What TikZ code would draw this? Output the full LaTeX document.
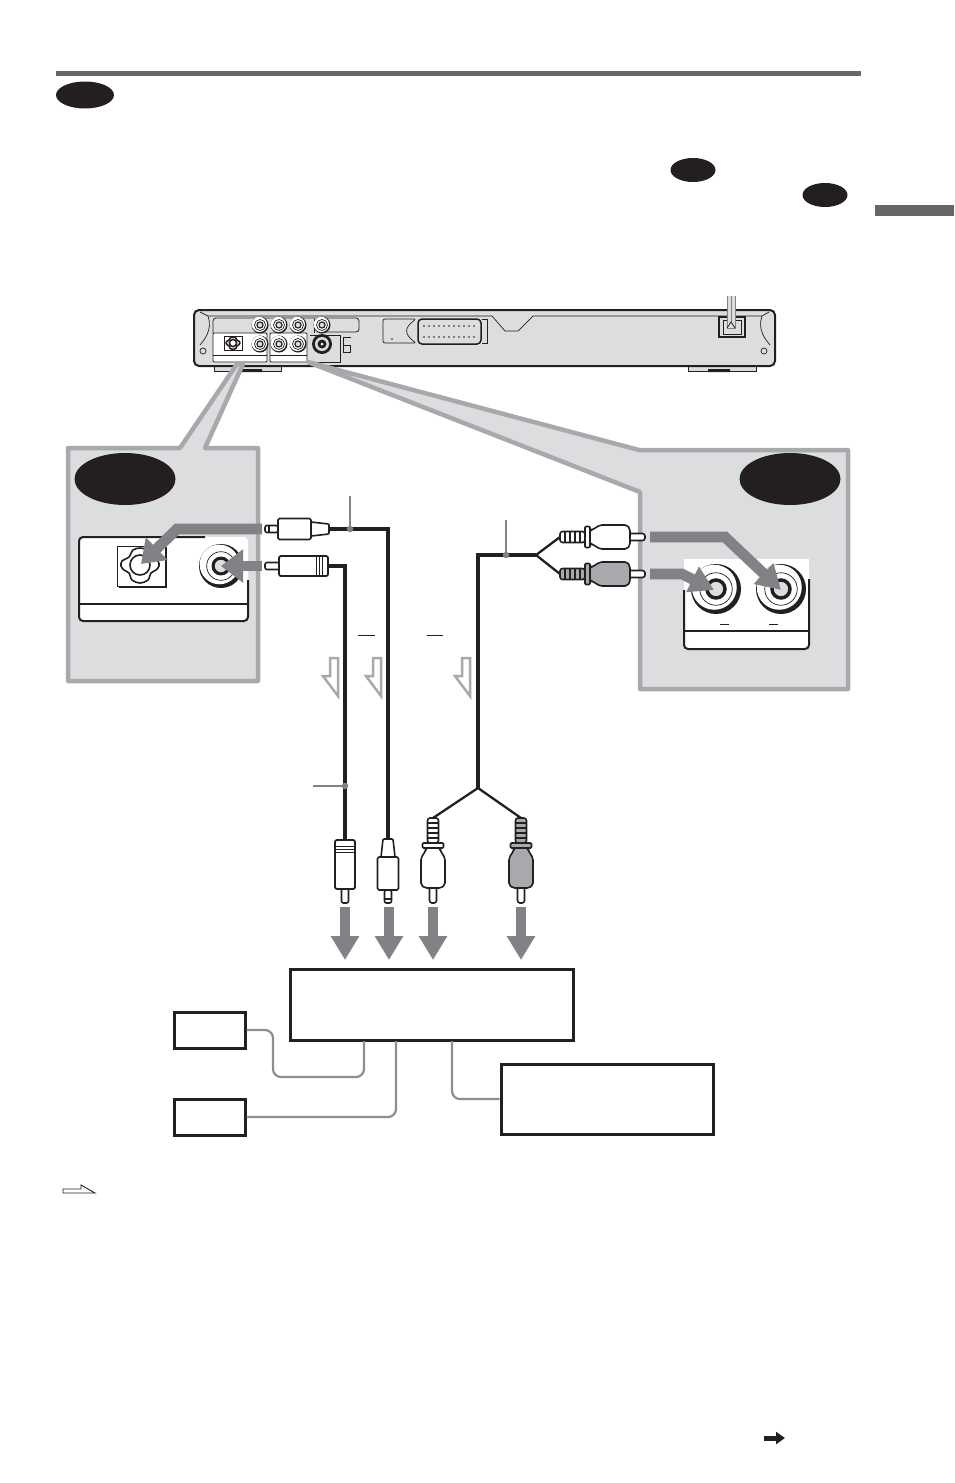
\documentclass[tikz,border=0pt]{standalone}
\usepackage{amsmath}
\usetikzlibrary{positioning,shapes.geometric,arrows.meta}
\definecolor{myblack}{RGB}{35,31,32}
\definecolor{mypanel}{RGB}{220,221,222}
\definecolor{myedge}{RGB}{167,169,172}
\definecolor{myarrow}{RGB}{128,130,133}
\definecolor{myrule}{RGB}{102,102,102}
\tikzset{
  badge/.style={ellipse,fill=myblack,inner sep=0pt},
  unitbox/.style={draw=myblack,line width=3pt,fill=white,inner sep=0pt},
  panel/.style={draw=myedge,fill=mypanel,line width=4.5pt,line join=round},
  cable/.style={draw=myblack,line width=3.7pt,line join=miter},
  thincable/.style={draw=myblack,line width=2.3pt},
  bigarrow/.style={draw=myarrow,line width=10.7pt,-{Triangle[length=24pt,width=27pt]}},
  hollow/.style={draw=myedge,line width=2.5pt,fill=white,line join=miter},
  grayline/.style={draw=myarrow!90,line width=2.2pt,rounded corners=8pt},
  leader/.style={draw=myarrow,line width=1.2pt},
  dot/.style={circle,fill=myarrow,inner sep=0pt,minimum size=6.5pt},
  plugline/.style={draw=myblack,line width=1.6pt,line join=round},
  pics/rcaplug/.style={code={
    \draw[plugline,fill=white,rounded corners=2.5pt] (15,-3.5) -- (0,-3.5) -- (0,3.5) -- (15,3.5);
    \draw[plugline,fill=#1,rounded corners=2pt] (15,-8) -- (18,-12) -- (45,-12) -- (53,-7) -- (55,-7)
      -- (55,7) -- (53,7) -- (45,12) -- (18,12) -- (15,8) -- cycle;
    \draw[plugline,fill=#1,rounded corners=1pt] (55,-10.5) rectangle (60,10.5);
    \draw[plugline,fill=#1,rounded corners=2.5pt] (60,-5.5) rectangle (85,5.5);
    \foreach \rx in {65,70,75,80}
      \draw[plugline,line width=1.2pt] (\rx,-5.5) -- (\rx,5.5);
  }},
  pics/optplug/.style={code={
    \draw[plugline,fill=white,rounded corners=2pt] (0,-3.5) rectangle (13,3.5);
    \draw[plugline] (4,-3.5) -- (4,3.5);
    \draw[plugline,fill=white,rounded corners=1.5pt] (13,-10.5) rectangle (46,10.5);
    \draw[plugline,fill=white,rounded corners=1pt] (46,-7) -- (64,-5) -- (64,5) -- (46,7) -- cycle;
  }},
  pics/miniplug/.style={code={
    \draw[plugline,fill=white,rounded corners=2pt] (0,-3.5) rectangle (15,3.5);
    \draw[plugline,line width=1.8pt,fill=white,rounded corners=2pt] (14,-10) rectangle (63,10);
    \foreach \rx in {51,54,57}
      \draw[plugline,line width=.8pt] (\rx,-10) -- (\rx,10);
  }},
  pics/jack/.style={code={
    \fill[myblack] (0,0) circle (#1);
    \fill[white] (-.07*#1,-.07*#1) circle (.9*#1);
    \draw[myblack,line width=.7pt] (0,0) circle (.65*#1);
    \draw[myblack,line width=.14*#1 pt,fill=mypanel] (0,0) circle (.36*#1);
  }},
  pics/optport/.style={code={
    \fill[myblack] (-21,-18) rectangle (27,23);
    \draw[myblack,line width=1pt,fill=white] (-23,-19) rectangle (25,21);
    \draw[myblack,line width=1.6pt,fill=white] plot[smooth cycle] coordinates {(-7,-15) (0,-17) (7,-15) (11,-8) (18,-4) (19,1) (16,5) (11,8) (8,15) (0,18) (-8,15) (-11,8) (-16,5) (-19,1) (-18,-4) (-11,-8)};
    \draw[myblack,line width=1.6pt,fill=white] (0,0) circle (10);
  }}
}
\begin{document}
\begin{tikzpicture}[x=1pt,y=-1pt]
  \useasboundingbox (0,0) rectangle (954,1483);

  % page marks
  \fill[myrule] (56,70.5) rectangle (861,75.5);
  \fill[myrule] (875,205) rectangle (954,216);
  \node[badge,minimum width=58pt,minimum height=27pt] (headbadge) at (85,95) {};
  \node[badge,minimum width=45pt,minimum height=24pt] (notea) at (693,170) {};
  \node[badge,minimum width=45pt,minimum height=24pt] (noteb) at (825,195) {};

  % the player
  \draw[myblack,line width=1pt,fill=mypanel] (214,364) rectangle (281,371) (688,364) rectangle (756,371);
  \fill[myblack] (240,369) rectangle (262,372) (708,369) rectangle (730,372);
  \draw[myblack,line width=2pt,fill=mypanel,rounded corners=5pt] (194,310) rectangle (775,366);
  \draw[myblack,line width=.7pt] (200,312) -- (208,316) -- (492,316) -- (505,331) -- (518,331) -- (533,316) -- (762,316) -- (769,312);
  \draw[myblack,line width=.7pt] (208,316) .. controls (213,330) and (204,340) .. (200,345);
  \draw[myblack,line width=.7pt] (762,316) .. controls (757,330) and (766,340) .. (770,345);
  \draw[myblack,line width=.7pt] (203,351) circle (3) (764,351) circle (3);
  \draw[myblack,line width=.8pt,rounded corners=3pt] (213,333) -- (213,318) -- (359,318) -- (359,332) -- (320,332);
  \draw[myblack,line width=.8pt] (314,333) -- (314,319);
  \draw[myblack,line width=.8pt,fill=white,rounded corners=1pt] (213,333) rectangle (267,362) (270,333) rectangle (307,362);
  \draw[myblack,line width=.8pt] (213,355) -- (267,355) (270,355) -- (307,355);
  \draw[myblack,line width=.8pt] (310,362) -- (340,362) -- (340,335) -- (310,335);
  \foreach \jx in {260,279,298,322}
    \pic at (\jx,325) {jack=8.5};
  \foreach \jx in {260,279,298}
    \pic at (\jx,344) {jack=8.5};
  \pic[scale=.36] at (233,343) {optport};
  \fill[myblack] (322,344) circle (10);
  \fill[mypanel] (322,344) circle (7);
  \fill[myblack] (322,344) circle (4.5);
  \fill[white] (322,344) circle (1.5);
  \draw[myblack,line width=.7pt] (343,352) -- (343,337) -- (351,337) (343,345) rectangle (350,352);
  \draw[myblack,line width=.7pt,rounded corners=2pt] (383,319) -- (416,319) .. controls (404,328) and (404,334) .. (416,343) -- (383,343) -- cycle;
  \fill[myblack] (392,339) circle (.8);
  \draw[myblack,line width=.7pt] (482,319) -- (487,319) -- (487,343) -- (482,343);
  \draw[myblack,line width=1.5pt,fill=mypanel,rounded corners=4pt] (418,319) rectangle (481,344);
  \foreach \sx in {0,...,10}
    \fill[myblack] (424+\sx*5,326) circle (.9) (424+\sx*5,337) circle (.9);
  \draw[myblack,line width=1.2pt] (719,317) rectangle (745,337);
  \draw[myblack,line width=1pt] (723,320) rectangle (741,334);
  \draw[myarrow,line width=.9pt,fill=mypanel] (727,296) -- (727,328) -- (735,328) -- (735,296);
  \draw[myarrow,line width=.8pt] (731,296) -- (731,322);
  \draw[myblack,line width=.8pt] (727,328) -- (731,322) -- (735,328);

  % panels with their wedges
  \draw[panel] (68,448) -- (180,448) -- (237,364) -- (243,364) -- (205,448) -- (258,448) -- (258,681) -- (68,681) -- cycle;
  \draw[panel] (308,362) -- (639,450) -- (848,450) -- (848,689) -- (640,689) -- (640,492) -- cycle;
  \node[badge,minimum width=101pt,minimum height=52pt] (leftbadge) at (125,479) {};
  \node[badge,minimum width=101pt,minimum height=52pt] (rightbadge) at (790,479) {};

  % left socket plate
  \fill[white,rounded corners=4pt] (79,537) rectangle (248,621);
  \draw[myblack,line width=2pt,rounded corners=4pt] (205,537) -- (79,537) -- (79,621) -- (248,621) -- (248,580);
  \draw[myblack,line width=2pt] (79,604) -- (248,604);
  \pic at (140,565) {optport};
  \pic at (221,566) {jack=22};

  % right socket plate
  \fill[white] (684,559) rectangle (809,575);
  \fill[white,rounded corners=4pt] (684,570) rectangle (809,649);
  \draw[myblack,line width=2pt,rounded corners=4pt] (684,590) -- (684,649) -- (809,649) -- (809,579);
  \draw[myblack,line width=2pt] (684,631) -- (809,631);
  \draw[myblack,line width=1pt] (720,624) -- (729,624) (769,624) -- (778,624);
  \pic at (716,589) {jack=25};
  \pic at (781,589) {jack=25};

  % plugs at the top
  \pic at (265,529) {optplug};
  \pic at (265,566) {miniplug};
  \pic[rotate=180] at (645,537) {rcaplug=white};
  \pic[rotate=180] at (645,574) {rcaplug=myedge};
  % plugs at the bottom
  \pic[rotate=90] at (345,903) {miniplug};
  \pic[rotate=90] at (388,903) {optplug};
  \pic[rotate=90] at (433,903) {rcaplug=white};
  \pic[rotate=90] at (521,903) {rcaplug=myedge};

  % cables
  \coordinate (opttop) at (329,529);
  \coordinate (optbot) at (388,839);
  \coordinate (minitop) at (328,566);
  \coordinate (minibot) at (345,840);
  \coordinate (splita) at (536,555);
  \coordinate (splitb) at (478,788);
  \coordinate (plugw) at (560,537);
  \coordinate (plugg) at (560,574);
  \coordinate (plugl) at (433,818);
  \coordinate (plugr) at (521,818);
  \draw[cable] (opttop) -| (optbot);
  \draw[cable] (minitop) -| (minibot);
  \draw[cable] (splita) -| (splitb);
  \draw[thincable] (plugw) -- (splita) -- (plugg);
  \draw[thincable] (plugl) -- (splitb) -- (plugr);

  % leaders
  \node[dot] (dota) at (350,529) {};
  \node[dot] (dotb) at (506,555) {};
  \node[dot] (dotc) at (345,786) {};
  \coordinate (leada) at (350,496);
  \coordinate (leadb) at (506,520);
  \coordinate (leadc) at (313,786);
  \draw[leader] (leada) -- (dota);
  \draw[leader] (leadb) -- (dotb);
  \draw[leader] (leadc) -- (dotc);
  \draw[myblack,line width=.9pt] (358,635) -- (375,635) (427,635) -- (443,635);

  % hollow signal arrows
  \foreach \ax in {338,381,470}
    \draw[hollow] (\ax-8,658) -- (\ax,658) -- (\ax,696) -- (\ax-15,676) -- (\ax-8,676) -- cycle;

  % thick arrows, left panel
  \coordinate (arra) at (262,529);
  \coordinate (arrab) at (177,529);
  \coordinate (arrat) at (141,564);
  \coordinate (arrb) at (262,566);
  \coordinate (arrbt) at (221,566);
  \draw[bigarrow,-{Triangle[length=22pt,width=30pt]}] (arra) -- (arrab) -- (arrat);
  \draw[bigarrow,-{Triangle[length=22pt,width=32pt]}] (arrb) -- (arrbt);

  % thick arrows, right panel
  \coordinate (arrc) at (650,537);
  \coordinate (arrcb) at (725,537);
  \coordinate (arrct) at (781,590);
  \coordinate (arrd) at (650,574);
  \coordinate (arrdb) at (682,574);
  \coordinate (arrdt) at (714,590);
  \draw[bigarrow] (arrc) -- (arrcb) -- (arrct);
  \draw[bigarrow] (arrd) -- (arrdb) -- (arrdt);

  % thick arrows into the amplifier
  \foreach \bx in {345,389,433,521}
    \draw[bigarrow] (\bx,907) -- (\bx,960);

  % boxes below
  \node[unitbox,minimum width=283pt,minimum height=71pt] (ampbox) at (431.5,1004.5) {};
  \node[unitbox,minimum width=71pt,minimum height=36pt] (unita) at (209.5,1030) {};
  \node[unitbox,minimum width=71pt,minimum height=36pt] (unitb) at (209.5,1117) {};
  \node[unitbox,minimum width=212pt,minimum height=70pt] (unitc) at (607,1099) {};

  \coordinate (ampa) at (364,1041);
  \coordinate (ampb) at (396,1041);
  \coordinate (ampc) at (452,1041);
  \draw[grayline] (unita.east) -- (273,1030) -- (273,1077) -- (364,1077) -- (ampa);
  \draw[grayline] (unitb.east) -| (ampb);
  \draw[grayline] (ampc) |- (unitc.west);

  % margin marks
  \draw[myblack,line width=.9pt] (63,1193) -- (95,1193) -- (81,1185) -- (81,1189) -- (63,1189) -- cycle;
  \draw[myblack,line width=5pt,-{Triangle[length=9pt,width=12pt]}] (764,1438) -- (785,1438);
\end{tikzpicture}
\end{document}
